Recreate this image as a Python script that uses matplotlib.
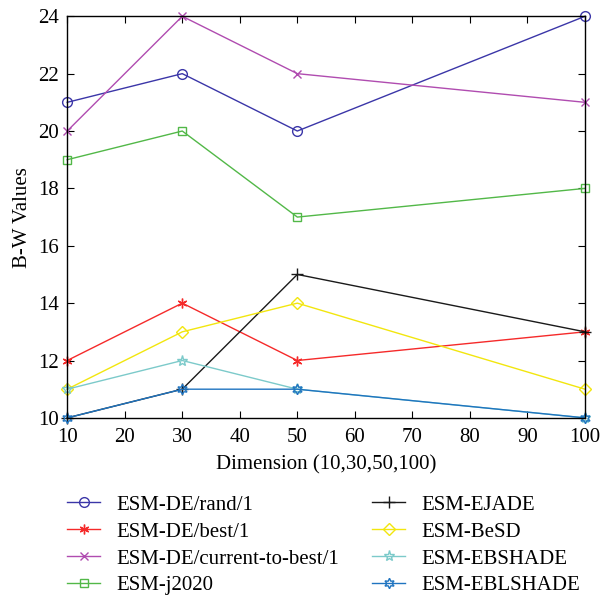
import matplotlib
matplotlib.use('Agg')
from matplotlib import pyplot as plt

dims = [10, 30, 50, 100]
names = ['ESM-DE/rand/1', 'ESM-DE/best/1', 'ESM-DE/current-to-best/1', 'ESM-j2020',
         'ESM-EJADE', 'ESM-BeSD', 'ESM-EBSHADE', 'ESM-EBLSHADE']
rand1 = [21, 22, 20, 24]
best1 = [12, 14, 12, 13]
ctb1 = [20, 24, 22, 21]
j2020 = [19, 20, 17, 18]
ejade = [10, 11, 15, 13]
besd = [11, 13, 14, 11]
ebshade = [11, 12, 11, 10]
eblshade = [10, 11, 11, 10]

series = [rand1, best1, ctb1, j2020, ejade, besd, ebshade, eblshade]
colors = ['#3b36a8', '#f52a2a', '#b04cb0', '#52b848', '#1a1a1a', '#f2e60e', '#7ccaca', '#1f74c0']
markers = ['o', (6, 2, 0), 'x', 's', '+', 'D', '*', (6, 1, 0)]
msizes = [7, 7, 5.5, 5.5, 8, 6, 8, 7.5]

plt.rcParams['font.family'] = ['Liberation Serif', 'DejaVu Serif']
plt.rcParams['font.size'] = 15

fig = plt.figure(figsize=(6.0, 6.03), dpi=100)
ax = fig.add_axes([0.112, 0.307, 0.863, 0.666])

for vals, name, c, m, ms in zip(series, names, colors, markers, msizes):
    ax.plot(dims, vals, color=c, marker=m, markersize=ms, markerfacecolor='none',
            markeredgecolor=c, markeredgewidth=1.0, linewidth=1.0, label=name, clip_on=False)

ax.set_xlim(10, 100)
ax.set_ylim(10, 24)
ax.set_xticks(range(10, 101, 10))
ax.set_yticks(range(10, 25, 2))
ax.tick_params(direction='in', top=True, right=True, length=5, labelsize=15)
ax.tick_params(axis='x', pad=7)
ax.tick_params(axis='y', pad=6)
for s in ax.spines.values():
    s.set_linewidth(1.0)
ax.set_xlabel('Dimension (10,30,50,100)', fontsize=15, labelpad=6)
ax.set_ylabel('B-W Values', fontsize=15, labelpad=4)

handles, labels = ax.get_legend_handles_labels()
fig.legend(handles, labels, ncol=2, loc='upper left', bbox_to_anchor=(0.088, 0.203),
           frameon=False, fontsize=15, handlelength=1.55, columnspacing=1.6,
           labelspacing=0.35, handletextpad=0.8, borderpad=0.2)

fig.savefig('out.png', dpi=100)
